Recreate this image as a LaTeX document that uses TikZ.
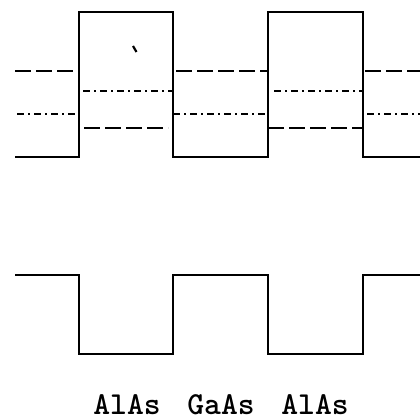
\documentclass[tikz,border=0pt]{standalone}
\usepackage{fontspec}
\begin{document}
\begin{tikzpicture}[x=1pt,y=-1pt,
  profile/.style={line width=1.8pt,line join=miter},
  dashlevel/.style={line width=1.9pt,dash pattern=on 16pt off 5pt},
  dotlevel/.style={line width=1.7pt,dash pattern=on 7pt off 4pt on 2pt off 4pt},
  lbl/.style={font=\fontsize{32}{32}\selectfont\ttfamily\bfseries,anchor=base,inner sep=0pt}]
\useasboundingbox (0,0) rectangle (420,419);
% upper band profile
\draw[profile] (15,157) -- (79,157) -- (79,12) -- (173,12) -- (173,157) -- (268,157)
  -- (268,12) -- (363,12) -- (363,157) -- (421,157);
% dashed levels
\draw[dashlevel] (15,71) -- (76,71);
\draw[dashlevel] (176,71) -- (268,71);
\draw[dashlevel] (365,71) -- (421,71);
\draw[dashlevel] (84,128) -- (168,128);
\draw[dashlevel] (268,128) -- (363,128);
% dash-dot levels
\draw[dotlevel] (83,91) -- (172,91);
\draw[dotlevel] (274,91) -- (362,91);
\draw[dotlevel] (17,114) -- (79,114);
\draw[dotlevel] (173,114) -- (268,114);
\draw[dotlevel] (367,114) -- (421,114);
% small tick
\draw[line width=2.2pt] (133,46) -- (136.5,52);
% lower band profile
\draw[profile] (15,275) -- (79,275) -- (79,354) -- (173,354) -- (173,275) -- (268,275)
  -- (268,354) -- (363,354) -- (363,275) -- (421,275);
% labels
\node[lbl] (t1) at (127,414.5) {AlAs};
\node[lbl] (t2) at (221,414.5) {GaAs};
\node[lbl] (t3) at (315,414.5) {AlAs};
\end{tikzpicture}
\end{document}
